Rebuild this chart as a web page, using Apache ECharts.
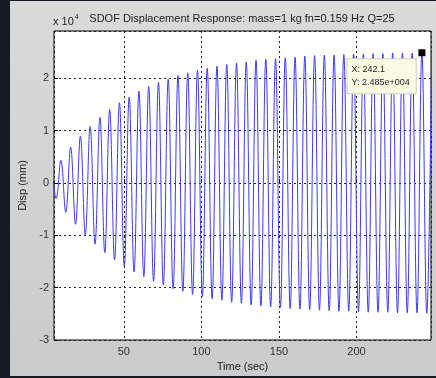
<!DOCTYPE html>
<html>
<head>
<meta charset="utf-8">
<script src="https://cdn.jsdelivr.net/npm/echarts@6/dist/echarts.min.js"></script>
<style>
  html, body { margin: 0; padding: 0; background: #131a24; }
  #panel { position: absolute; left: 10px; top: 1px; width: 426px; height: 375px;
           background: linear-gradient(#dadada, #cbcbcb); }
  #chart { position: absolute; left: 0; top: 0; width: 436px; height: 378px; }
</style>
</head>
<body>
<div id="panel"></div>
<div id="chart"></div>
<script>
// Times (s) of the successive extrema of the response
const extremaTime = [0, 3.14, 6.29, 9.43, 12.58, 15.72, 18.87, 22.01, 25.16, 28.30,
  31.45, 34.59, 37.74, 40.88, 44.03, 47.17, 50.31, 53.46, 56.60, 59.75,
  62.89, 66.04, 69.18, 72.33, 75.47, 78.62, 81.76, 84.91, 88.05, 91.20,
  94.34, 97.48, 100.63, 103.77, 106.92, 110.06, 113.21, 116.35, 119.50, 122.64,
  125.79, 128.93, 132.08, 135.22, 138.36, 141.51, 144.65, 147.80, 150.94, 154.09,
  157.23, 160.38, 163.52, 166.67, 169.81, 172.96, 176.10, 179.25, 182.39, 185.53,
  188.68, 191.82, 194.97, 198.11, 201.26, 204.40, 207.55, 210.69, 213.84, 216.98,
  220.13, 223.27, 226.42, 229.56, 232.70, 235.85, 238.99, 242.14, 245.28, 248.43];
// Displacement at those extrema (x 10^4 mm)
const extremaDisp = [0, 0.15, -0.30, 0.43, -0.56, 0.68, -0.79, 0.89, -0.99, 1.08,
  -1.17, 1.25, -1.33, 1.40, -1.47, 1.53, -1.59, 1.64, -1.70, 1.75,
  -1.79, 1.84, -1.88, 1.92, -1.95, 1.98, -2.02, 2.05, -2.07, 2.10,
  -2.13, 2.15, -2.17, 2.19, -2.21, 2.23, -2.24, 2.26, -2.28, 2.29,
  -2.30, 2.31, -2.33, 2.34, -2.35, 2.36, -2.37, 2.37, -2.38, 2.39,
  -2.40, 2.40, -2.41, 2.42, -2.42, 2.43, -2.43, 2.44, -2.44, 2.44,
  -2.45, 2.45, -2.45, 2.46, -2.46, 2.46, -2.47, 2.47, -2.47, 2.47,
  -2.47, 2.48, -2.48, 2.48, -2.48, 2.48, -2.48, 2.485, -2.49, 2.49];
const titleText = 'SDOF Displacement Response: mass=1 kg fn=0.159 Hz Q=25';
const xName = 'Time (sec)';
const yName = 'Disp (mm)';
const tipTime = 242.14, tipDisp = 2.485;
const tipLabel = ['X: 242.1', 'Y: 2.485e+004'];

const seriesData = extremaTime.map((t, i) => [t, extremaDisp[i]]);
const FONT = '"Liberation Sans", Arial, sans-serif';

const chart = echarts.init(document.getElementById('chart'), null, {renderer: 'canvas'});
chart.setOption({
  animation: false,
  backgroundColor: 'transparent',
  textStyle: { fontFamily: FONT },
  grid: { left: 54, right: 5, top: 31, bottom: 38, show: true,
          backgroundColor: '#ffffff', borderColor: '#000', borderWidth: 1 },
  graphic: [
    { type: 'text', x: 242, y: 13, z: 10,
      style: { text: titleText, font: '11px ' + FONT, fill: '#222', textAlign: 'center' } },
    { type: 'text', x: 53, y: 14, z: 10,
      style: { text: '{a|x 10}{s|4}', fill: '#222',
        rich: { a: { fontSize: 11, fontFamily: FONT, fill: '#222' },
                s: { fontSize: 7, fontFamily: FONT, fill: '#222', padding: [0, 0, 8, 1] } } } }
  ],
  xAxis: {
    type: 'value', min: 5, max: 248, splitNumber: 5,
    name: xName, nameLocation: 'middle', nameGap: 20,
    nameTextStyle: { fontSize: 11, color: '#222', fontFamily: FONT },
    axisLine: { show: false },
    axisTick: { show: true, inside: true, length: 4, lineStyle: { color: '#000' } },
    axisLabel: { fontSize: 11, color: '#333', margin: 6, showMinLabel: false, showMaxLabel: false },
    splitLine: { show: true, lineStyle: { color: '#222', type: [2, 3], width: 1 } }
  },
  yAxis: {
    type: 'value', min: -3, max: 2.9, interval: 1,
    name: yName, nameLocation: 'middle', nameGap: 22, nameRotate: 90,
    nameTextStyle: { fontSize: 11, color: '#222', fontFamily: FONT },
    axisLine: { show: false },
    axisTick: { show: true, inside: true, length: 4, lineStyle: { color: '#000' } },
    axisLabel: { fontSize: 11, color: '#333', margin: 5, showMaxLabel: false },
    splitLine: { show: true, lineStyle: { color: '#222', type: [2, 3], width: 1 } }
  },
  series: [{
    type: 'line', data: seriesData, smooth: 0.4, showSymbol: false, clip: true,
    lineStyle: { color: '#3a3aff', width: 1 },
    markPoint: {
      symbol: 'rect', symbolSize: 7, itemStyle: { color: '#000' },
      data: [{ coord: [tipTime, tipDisp] }],
      label: {
        show: true, position: [-71, 10],
        formatter: tipLabel.join('\n'),
        fontSize: 9, color: '#222', fontFamily: FONT, lineHeight: 13,
        backgroundColor: '#fbfbe3', borderColor: '#cfcfb8', borderWidth: 1,
        padding: [4, 6, 4, 4]
      }
    }
  }]
});
</script>
</body>
</html>
